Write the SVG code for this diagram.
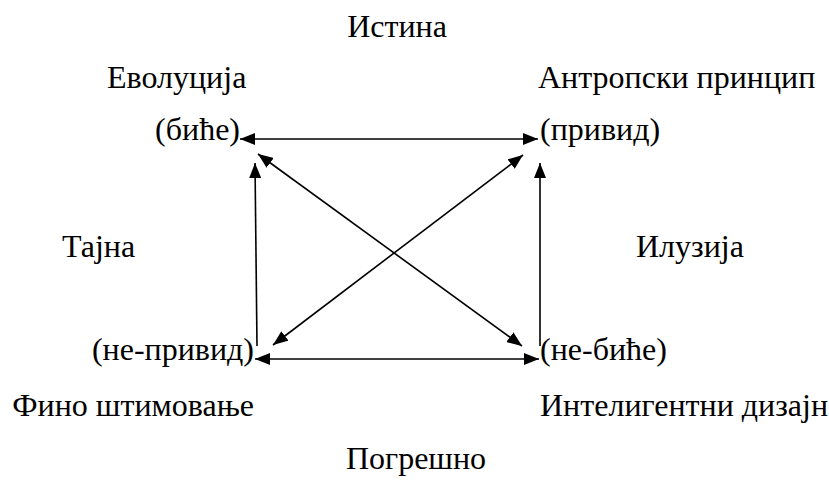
<svg xmlns="http://www.w3.org/2000/svg" width="829" height="482" viewBox="0 0 829 482">
<style>
text{font-family:"Liberation Serif","Times New Roman",serif;font-size:32px;fill:#000}
.c line{stroke:#000;stroke-width:1.6;fill:none}
</style>
<defs>
<marker id="ah" markerUnits="userSpaceOnUse" markerWidth="16" markerHeight="12" refX="15" refY="6" orient="auto-start-reverse">
<path d="M0,0 L15,6 L0,12 z" fill="#000"/>
</marker>
</defs>
<rect width="829" height="482" fill="#fff"/>
<g id="label-top"><text x="397" y="37" text-anchor="middle">Истина</text></g>
<g id="label-bottom"><text x="416" y="469" text-anchor="middle">Погрешно</text></g>
<g id="label-left"><text x="62" y="257">Тајна</text></g>
<g id="label-right"><text x="636" y="257">Илузија</text></g>
<g id="node-bice"><text x="107" y="88">Еволуција</text><text x="240" y="140" text-anchor="end">(биће)</text></g>
<g id="node-privid"><text x="538" y="88">Антропски принцип</text><text x="540" y="140">(привид)</text></g>
<g id="node-ne-privid"><text x="254" y="360" text-anchor="end">(не-привид)</text><text x="254" y="416" text-anchor="end">Фино штимовање</text></g>
<g id="node-ne-bice"><text x="540" y="360">(не-биће)</text><text x="540" y="416">Интелигентни дизајн</text></g>
<g id="connectors" class="c">
<line x1="240" y1="139" x2="538" y2="139" marker-start="url(#ah)" marker-end="url(#ah)"/>
<line x1="255" y1="359" x2="539" y2="359" marker-start="url(#ah)" marker-end="url(#ah)"/>
<line x1="257" y1="346" x2="255" y2="163" marker-end="url(#ah)"/>
<line x1="540" y1="346" x2="540" y2="163" marker-end="url(#ah)"/>
<line x1="258" y1="154" x2="522" y2="346" marker-start="url(#ah)" marker-end="url(#ah)"/>
<line x1="523" y1="155" x2="273" y2="345" marker-start="url(#ah)" marker-end="url(#ah)"/>
</g>
</svg>
